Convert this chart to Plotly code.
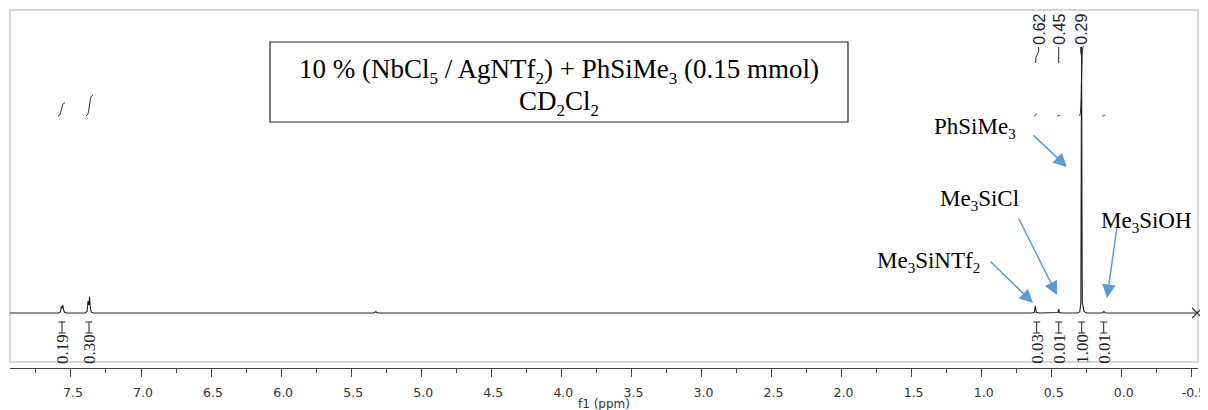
import plotly.graph_objects as go

# ---------------- data ----------------
# 1H NMR trace (ppm, relative intensity; tallest peak = 1.0)
spec_ppm = [7.935, 7.59, 7.575, 7.568, 7.563, 7.558, 7.553, 7.545, 7.53,
            7.40, 7.385, 7.378, 7.372, 7.367, 7.362, 7.355, 7.34,
            5.34, 5.325, 5.31,
            0.65, 0.625, 0.617, 0.61, 0.59,
            0.47, 0.455, 0.45, 0.445, 0.43,
            0.32, 0.30, 0.292, 0.287, 0.282, 0.27, 0.25,
            0.15, 0.135, 0.128, 0.12, 0.10, -0.544]
spec_int = [0, 0, 0.004, 0.026, 0.018, 0.030, 0.012, 0.003, 0,
            0, 0.006, 0.045, 0.030, 0.061, 0.020, 0.004, 0,
            0, 0.005, 0,
            0, 0.002, 0.027, 0.003, 0,
            0, 0.002, 0.015, 0.002, 0,
            0, 0.004, 0.04, 1.0, 0.04, 0.006, 0,
            0, 0.001, 0.006, 0.001, 0, 0]

# integrals
int_from = [7.593, 7.393, 0.625, 0.460, 0.300, 0.140]
int_to = [7.543, 7.343, 0.605, 0.440, 0.275, 0.118]
int_val = [0.19, 0.30, 0.03, 0.01, 1.00, 0.01]
int_label_ppm = [7.564, 7.371, 0.607, 0.450, 0.286, 0.129]
int_labels = ["0.19", "0.30", "0.03", "0.01", "1.00", "0.01"]

# peak picking labels
peak_ppm = [0.614, 0.450, 0.286]
peak_label_ppm = [0.593, 0.450, 0.293]
peak_labels = ["0.62", "0.45", "0.29"]

# axis ticks
tick_vals = [7.5, 7.0, 6.5, 6.0, 5.5, 5.0, 4.5, 4.0, 3.5, 3.0, 2.5, 2.0, 1.5, 1.0, 0.5, 0.0, -0.5]
tick_text = ["7.5", "7.0", "6.5", "6.0", "5.5", "5.0", "4.5", "4.0", "3.5", "3.0",
             "2.5", "2.0", "1.5", "1.0", "0.5", "0.0", "-0.5"]
x_range = [7.935, -0.544]
x_title = "f1 (ppm)"

# compound labels
compound_labels = ["PhSiMe<sub>3</sub>", "Me<sub>3</sub>SiCl",
                   "Me<sub>3</sub>SiNTf<sub>2</sub>", "Me<sub>3</sub>SiOH"]
box_line1 = "10 % (NbCl<sub>5</sub> / AgNTf<sub>2</sub>) + PhSiMe<sub>3</sub> (0.15 mmol)"
box_line2 = "CD<sub>2</sub>Cl<sub>2</sub>"

# ---------------- layout helpers ----------------
OFF = 8                 # page body margin of the html page
W, H = 1208 - OFF, 410 - OFF
PL, PR, PT, PB = 10, 1198, 10, 368   # plot area in window pixels


def px(xp):
    return (xp - PL) / (PR - PL)


def py(yp):
    return (PB - yp) / (PB - PT)


def small_sub(s, size):
    return s.replace("<sub>", '<sub><span style="font-size:%dpx">' % size).replace(
        "</sub>", "</span></sub>")


PPM_PER_PX = (x_range[0] - x_range[1]) / (PR - PL)

SERIF = "Liberation Serif, Times New Roman, serif"
SANS = "Liberation Sans, Arial, sans-serif"
VERD = "DejaVu Sans, Verdana, sans-serif"
BLUE = "#5B9BD5"
INK = "#222222"

fig = go.Figure()

# spectrum
fig.add_trace(go.Scatter(x=spec_ppm, y=spec_int, mode="lines",
                         line=dict(color=INK, width=1.1),
                         hoverinfo="skip", showlegend=False))
# end marker
fig.add_trace(go.Scatter(x=[spec_ppm[-1] + 0.006], y=[spec_int[-1]], mode="markers",
                         marker=dict(symbol="x-thin-open", size=10, color="#333333",
                                     line=dict(color="#333333", width=1.2)),
                         cliponaxis=False, hoverinfo="skip", showlegend=False))

# integral curves (secondary axis)
for f, t, v in zip(int_from, int_to, int_val):
    xs = [f, f - 0.25 * (f - t), f - 0.5 * (f - t), f - 0.75 * (f - t), t]
    ys = [0, 0.08 * v, 0.5 * v, 0.92 * v, v]
    fig.add_trace(go.Scatter(x=xs, y=ys, yaxis="y2", mode="lines",
                             line=dict(color=INK, width=1, shape="spline"),
                             hoverinfo="skip", showlegend=False))

shapes = []
# gray frame
shapes.append(dict(type="rect", xref="paper", yref="paper",
                   x0=px(10), x1=px(1198), y0=py(362), y1=py(10),
                   line=dict(color="#d6d6d6", width=2), layer="below"))
# box around title
shapes.append(dict(type="rect", xref="paper", yref="paper",
                   x0=px(270), x1=px(848), y0=py(122), y1=py(42),
                   line=dict(color=INK, width=1.2)))

# peak label connectors
for pk, lb in zip(peak_ppm, peak_label_ppm):
    pts = [(lb, 47), (lb, 51), (pk, 58), (pk, 63)]
    for (xa, ya), (xb, yb) in zip(pts[:-1], pts[1:]):
        shapes.append(dict(type="line", xref="x", yref="paper",
                           x0=xa, x1=xb, y0=py(ya), y1=py(yb),
                           line=dict(color=INK, width=1)))

# integral brackets (I-beam)
hw = 3.5 * PPM_PER_PX
for lx in int_label_ppm:
    for ya in (322, 333):
        shapes.append(dict(type="line", xref="x", yref="paper",
                           x0=lx - hw, x1=lx + hw, y0=py(ya), y1=py(ya),
                           line=dict(color=INK, width=1)))
    shapes.append(dict(type="line", xref="x", yref="paper",
                       x0=lx, x1=lx, y0=py(322), y1=py(333),
                       line=dict(color=INK, width=1)))

annotations = []
# peak labels (rotated)
for lb, txt in zip(peak_label_ppm, peak_labels):
    annotations.append(dict(x=lb, xref="x", y=py(29), yref="paper", text=txt,
                            textangle=-90, showarrow=False,
                            xanchor="center", yanchor="middle",
                            font=dict(family=SANS, size=16, color=INK)))
# integral labels (rotated)
for lx, txt in zip(int_label_ppm, int_labels):
    annotations.append(dict(x=lx, xref="x", y=py(349), yref="paper", text=txt,
                            textangle=-90, showarrow=False,
                            xanchor="center", yanchor="middle",
                            font=dict(family=SERIF, size=17, color=INK)))

# box text
annotations.append(dict(x=px(559), y=py(71), xref="paper", yref="paper",
                        text=small_sub(box_line1, 17),
                        showarrow=False, xanchor="center", yanchor="middle",
                        font=dict(family=SERIF, size=27, color="black")))
annotations.append(dict(x=px(559), y=py(103), xref="paper", yref="paper",
                        text=small_sub(box_line2, 17),
                        showarrow=False, xanchor="center", yanchor="middle",
                        font=dict(family=SERIF, size=27, color="black")))

# compound labels
label_pos = [(975, 128), (979, 200), (928, 262), (1146, 222)]
for (lxp, lyp), txt in zip(label_pos, compound_labels):
    annotations.append(dict(x=px(lxp), y=py(lyp), xref="paper", yref="paper",
                            text=small_sub(txt, 15),
                            showarrow=False, xanchor="center", yanchor="middle",
                            font=dict(family=SERIF, size=23, color="black")))

# x-axis title
annotations.append(dict(x=0.5, y=py(404), xref="paper", yref="paper", text=x_title,
                        showarrow=False, xanchor="center", yanchor="middle",
                        font=dict(family=VERD, size=12, color="#333333")))

# arrows: (tail), (tip)
arrows = [((1032, 134), (1067, 167)),
          ((1018, 217), (1057, 295)),
          ((989, 260), (1033, 303)),
          ((1117, 227), (1107, 298))]
for (tx, ty), (hx, hy) in arrows:
    annotations.append(dict(x=px(hx), y=py(hy), xref="paper", yref="paper",
                            ax=tx - hx, ay=ty - hy, axref="pixel", ayref="pixel",
                            text="", showarrow=True, arrowhead=2, arrowsize=1.8,
                            arrowwidth=1.5, arrowcolor=BLUE))

y_top_px = 47  # pixel row of the tallest peak
yscale = (313 - y_top_px)
fig.update_layout(
    width=W, height=H, autosize=False,
    margin=dict(l=PL - OFF, r=(W + OFF) - PR, t=PT - OFF, b=(H + OFF) - PB, pad=0),
    paper_bgcolor="white", plot_bgcolor="white",
    showlegend=False,
    xaxis=dict(range=x_range, showgrid=False, zeroline=False,
               showline=True, linecolor="#444444", linewidth=1,
               ticks="outside", ticklen=8, tickcolor="#444444", tickwidth=1,
               tickvals=tick_vals, ticktext=tick_text,
               ticklabelstandoff=5, ticklabelshift=-2, automargin=False,
               tickfont=dict(family=VERD, size=12.5, color="#333333"),
               minor=dict(dtick=0.25, tick0=0, ticks="outside", ticklen=4,
                          tickcolor="#444444", showgrid=False)),
    yaxis=dict(range=[-(PB - 313) / yscale, (313 - PT) / yscale], visible=False,
               fixedrange=True),
    yaxis2=dict(range=[(116 - PB) / 70, (116 - PT) / 70], overlaying="y", visible=False),
    shapes=shapes,
    annotations=annotations,
)

fig.write_html("out.html")
